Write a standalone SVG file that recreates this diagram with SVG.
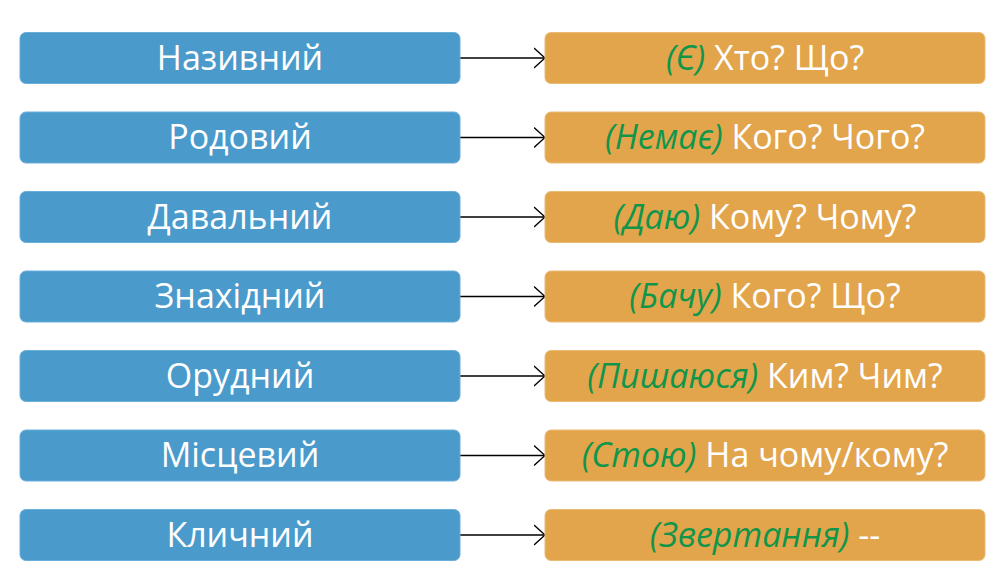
<svg xmlns="http://www.w3.org/2000/svg" width="1000" height="588" viewBox="0 0 1000 588">
<defs>
<style>
.l{fill:#4A9ACB;stroke:#6AAEDA;stroke-width:1}
.r{fill:#E2A54C;stroke:#EBBB74;stroke-width:1}
text{font-family:"Open Sans","Noto Sans","DejaVu Sans",sans-serif;font-size:34px;fill:#FFFFFF;text-anchor:middle}
.g{fill:#10954A;font-style:italic}
.c{stroke:#000;stroke-width:1.3;fill:none}
</style>
<marker id="a" viewBox="0 0 12 22" refX="11.5" refY="11" markerWidth="12" markerHeight="22" markerUnits="userSpaceOnUse" orient="auto">
<path d="M0.5,1 L11.5,11 L0.5,21" fill="none" stroke="#000" stroke-width="1.3"/>
</marker>
</defs>
<rect width="1000" height="588" fill="#fff"/>
<g id="connectors">
<line class="c" x1="460" y1="58" x2="545" y2="58" marker-end="url(#a)"/>
<line class="c" x1="460" y1="137.5" x2="545" y2="137.5" marker-end="url(#a)"/>
<line class="c" x1="460" y1="217" x2="545" y2="217" marker-end="url(#a)"/>
<line class="c" x1="460" y1="296.5" x2="545" y2="296.5" marker-end="url(#a)"/>
<line class="c" x1="460" y1="376" x2="545" y2="376" marker-end="url(#a)"/>
<line class="c" x1="460" y1="455.5" x2="545" y2="455.5" marker-end="url(#a)"/>
<line class="c" x1="460" y1="535" x2="545" y2="535" marker-end="url(#a)"/>
</g>
<g id="n1"><rect class="l" x="20" y="32.5" width="440" height="51" rx="6"/><text x="240" y="69.5">Називний</text></g>
<g id="n2"><rect class="l" x="20" y="112" width="440" height="51" rx="6"/><text x="240" y="149">Родовий</text></g>
<g id="n3"><rect class="l" x="20" y="191.5" width="440" height="51" rx="6"/><text x="240" y="228.5">Давальний</text></g>
<g id="n4"><rect class="l" x="20" y="271" width="440" height="51" rx="6"/><text x="240" y="308">Знахідний</text></g>
<g id="n5"><rect class="l" x="20" y="350.5" width="440" height="51" rx="6"/><text x="240" y="387.5">Орудний</text></g>
<g id="n6"><rect class="l" x="20" y="430" width="440" height="51" rx="6"/><text x="240" y="467">Місцевий</text></g>
<g id="n7"><rect class="l" x="20" y="509.5" width="440" height="51" rx="6"/><text x="240" y="546.5">Кличний</text></g>
<g id="q1"><rect class="r" x="545" y="32.5" width="440" height="51" rx="6"/><text x="765" y="69.5"><tspan class="g">(Є)</tspan> Хто? Що?</text></g>
<g id="q2"><rect class="r" x="545" y="112" width="440" height="51" rx="6"/><text x="765" y="149"><tspan class="g">(Немає)</tspan> Кого? Чого?</text></g>
<g id="q3"><rect class="r" x="545" y="191.5" width="440" height="51" rx="6"/><text x="765" y="228.5"><tspan class="g">(Даю)</tspan> Кому? Чому?</text></g>
<g id="q4"><rect class="r" x="545" y="271" width="440" height="51" rx="6"/><text x="765" y="308"><tspan class="g">(Бачу)</tspan> Кого? Що?</text></g>
<g id="q5"><rect class="r" x="545" y="350.5" width="440" height="51" rx="6"/><text x="765" y="387.5"><tspan class="g">(Пишаюся)</tspan> Ким? Чим?</text></g>
<g id="q6"><rect class="r" x="545" y="430" width="440" height="51" rx="6"/><text x="765" y="467"><tspan class="g">(Стою)</tspan> На чому/кому?</text></g>
<g id="q7"><rect class="r" x="545" y="509.5" width="440" height="51" rx="6"/><text x="765" y="546.5"><tspan class="g">(Звертання)</tspan> --</text></g>
</svg>
